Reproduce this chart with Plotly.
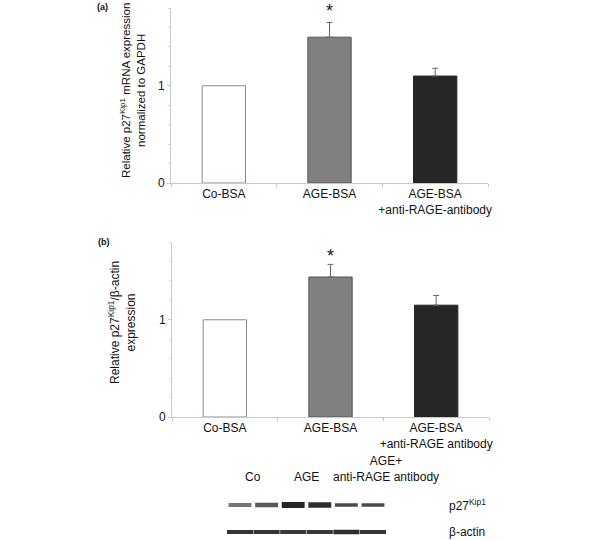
import plotly.graph_objects as go

# ---- data ----
categories_a = ["Co-BSA", "AGE-BSA", "AGE-BSA<br>+anti-RAGE-antibody"]
values_a = [1.0, 1.5, 1.10]
err_a = [0.0, 0.15, 0.08]

categories_b = ["Co-BSA", "AGE-BSA", "AGE-BSA<br>+anti-RAGE antibody"]
values_b = [1.0, 1.44, 1.15]
err_b = [0.0, 0.13, 0.10]

bar_fill = ["#ffffff", "#808080", "#262626"]
bar_line = ["#8a8a8a", "#555555", "#262626"]

# western blot: lane index, band intensity (0..1) and band thickness
lanes = [1, 2, 3, 4, 5, 6]
p27_intensity = [0.55, 0.68, 0.92, 0.88, 0.75, 0.75]
p27_width = [4, 4.5, 6, 5.5, 3.5, 3.5]
actin_intensity = [0.85, 0.85, 0.83, 0.83, 0.88, 0.85]
actin_width = [4, 4, 4, 4, 4.5, 4]
lane_groups = ["Co", "AGE", "AGE+<br>anti-RAGE antibody"]
group_centers = [1.5, 3.5, 6.5]
blot_rows = ["β-actin", "p27<sup>Kip1</sup>"]

FONT = "Liberation Sans, Arial, sans-serif"

fig = go.Figure()


def add_panel(cats, vals, errs, xa, ya):
    fig.add_trace(go.Bar(
        x=cats, y=vals, width=0.41,
        marker=dict(color=bar_fill, line=dict(color=bar_line, width=1)),
        xaxis=xa, yaxis=ya, showlegend=False))
    # upward error bars only where an error exists
    ex = [c for c, e in zip(cats, errs) if e > 0]
    ey = [v for v, e in zip(vals, errs) if e > 0]
    ee = [e for e in errs if e > 0]
    fig.add_trace(go.Scatter(
        x=ex, y=ey, mode="markers", marker=dict(size=0.1, color="rgba(0,0,0,0)"),
        error_y=dict(type="data", symmetric=False, array=ee, arrayminus=[0] * len(ee),
                     color="#666666", thickness=1, width=3),
        xaxis=xa, yaxis=ya, showlegend=False, hoverinfo="skip"))


add_panel(categories_a, values_a, err_a, "x", "y")
add_panel(categories_b, values_b, err_b, "x2", "y2")


# blot bands
def grey(v):
    g = int(round(235 - 215 * v))
    return f"rgb({g},{g},{g})"


for i, lane in enumerate(lanes):
    fig.add_trace(go.Scatter(
        x=[lane - 0.43, lane + 0.43], y=[2, 2], mode="lines",
        line=dict(color=grey(p27_intensity[i]), width=p27_width[i]),
        xaxis="x3", yaxis="y3", showlegend=False, hoverinfo="skip"))
    fig.add_trace(go.Scatter(
        x=[lane - 0.49, lane + 0.49], y=[1, 1], mode="lines",
        line=dict(color=grey(actin_intensity[i]), width=actin_width[i]),
        xaxis="x3", yaxis="y3", showlegend=False, hoverinfo="skip"))

xaxis_common = dict(showline=True, linecolor="#c8c8c8", linewidth=1,
                    ticks="outside", tickson="boundaries", ticklen=3,
                    tickcolor="#c8c8c8", showgrid=False, zeroline=False,
                    tickangle=0, automargin=False,
                    tickfont=dict(size=12, color="#111111", family=FONT))
yaxis_common = dict(range=[0, 1.8], tickvals=[0, 1], ticks="outside", ticklen=3,
                    tickcolor="#c8c8c8", showline=True, linecolor="#c8c8c8",
                    linewidth=1, showgrid=False, zeroline=False, automargin=False,
                    minor=dict(dtick=0.2, ticks="outside", ticklen=2,
                               tickcolor="#d8d8d8", showgrid=False),
                    tickfont=dict(size=12, color="#111111", family=FONT))

fig.update_layout(
    width=600, height=540, autosize=False,
    margin=dict(l=0, r=0, t=0, b=0, pad=0),
    paper_bgcolor="white", plot_bgcolor="white",
    font=dict(family=FONT, color="#111111", size=12),
    bargap=0.59, showlegend=False,
    xaxis=dict(domain=[171 / 600, 488 / 600], anchor="y", **xaxis_common),
    yaxis=dict(domain=[1 - 183 / 540, 1 - 8 / 540], anchor="x", **yaxis_common),
    xaxis2=dict(domain=[172 / 600, 489 / 600], anchor="y2", **xaxis_common),
    yaxis2=dict(domain=[1 - 417 / 540, 1 - 242 / 540], anchor="x2", **yaxis_common),
    xaxis3=dict(domain=[226.7 / 600, 386.3 / 600], range=[0.5, 6.5], anchor="y3",
                visible=False, automargin=False),
    yaxis3=dict(domain=[0, 1 - 491.5 / 540], range=[0.7037, 2.5], anchor="x3",
                visible=False, automargin=False),
)

ann = []
# panel labels
ann.append(dict(text="<b>(a)</b>", x=95 / 600, y=1 - 7 / 540, xref="paper", yref="paper",
                xanchor="left", yanchor="middle", showarrow=False, font=dict(size=9)))
ann.append(dict(text="<b>(b)</b>", x=96 / 600, y=1 - 242 / 540, xref="paper", yref="paper",
                xanchor="left", yanchor="middle", showarrow=False, font=dict(size=9)))
# y titles
ann.append(dict(text="Relative p27<sup>Kip1</sup> mRNA expression<br>normalized to GAPDH",
                x=132 / 600, y=1 - 91 / 540, xref="paper", yref="paper", textangle=-90,
                xanchor="center", yanchor="middle", showarrow=False,
                font=dict(size=11.5)))
ann.append(dict(text="Relative p27<sup>Kip1</sup>/β-actin<br>expression",
                x=122 / 600, y=1 - 323 / 540, xref="paper", yref="paper", textangle=-90,
                xanchor="center", yanchor="middle", showarrow=False,
                font=dict(size=12)))
# significance stars
ann.append(dict(text="*", x=categories_a[1], y=values_a[1] + err_a[1], xref="x", yref="y",
                yshift=12, showarrow=False, font=dict(size=18)))
ann.append(dict(text="*", x=categories_b[1], y=values_b[1] + err_b[1], xref="x2", yref="y2",
                yshift=8, showarrow=False, font=dict(size=18)))
# blot labels
for g, c in zip(lane_groups, group_centers):
    ann.append(dict(text=g, x=c, y=2.5, xref="x3", yref="y3", yanchor="bottom",
                    yshift=6, showarrow=False, font=dict(size=12)))
for r, yv in zip(blot_rows, [1, 2]):
    ann.append(dict(text=r, x=447 / 600, y=yv, xref="paper", yref="y3", xanchor="left",
                    yanchor="middle", showarrow=False, font=dict(size=12)))
fig.update_layout(annotations=ann)

fig.write_html("out.html", config={"displayModeBar": False},
               post_script="document.body.style.margin='0';document.body.style.overflow='hidden';")
